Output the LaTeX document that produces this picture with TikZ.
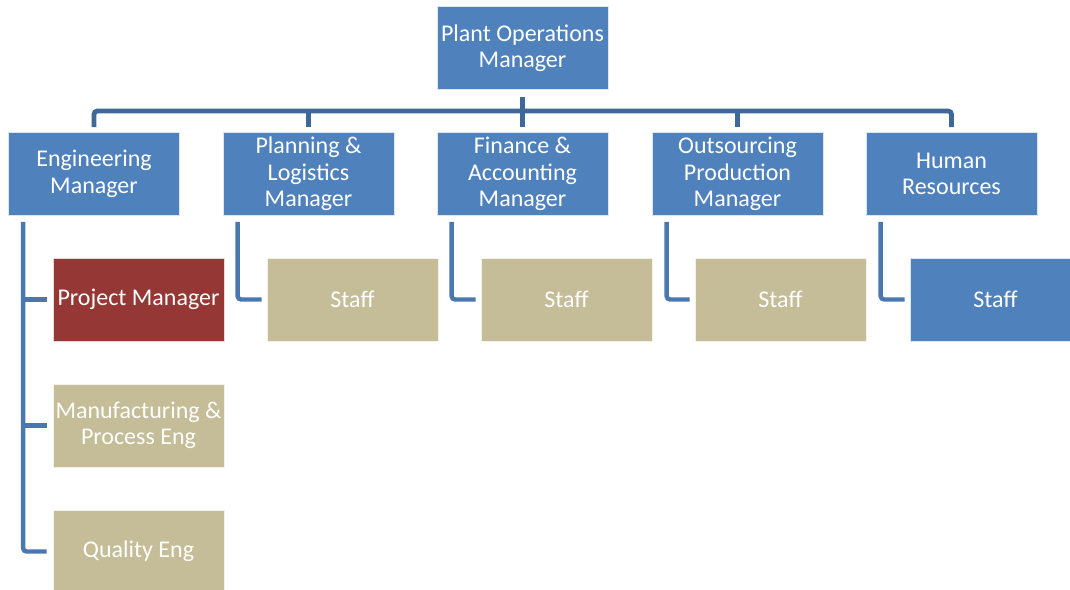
\documentclass[tikz,border=0pt]{standalone}
\usepackage{fontspec}
\setmainfont{Carlito}
\definecolor{boxblue}{HTML}{4F81BD}
\definecolor{busblue}{HTML}{3F6898}
\definecolor{linkblue}{HTML}{4A77B0}
\definecolor{tan}{HTML}{C4BD97}
\definecolor{brick}{HTML}{953735}
\begin{document}
\begin{tikzpicture}[x=0.75pt,y=-0.75pt,
  orgbox/.style={rectangle, minimum width=128.25pt, minimum height=62.25pt,
    inner sep=0pt, text=white, align=center, draw=white!80!#1, line width=0.5pt,
    fill=#1, font=\fontsize{18}{19.8}\selectfont},
  orgbox/.default=boxblue,
  bus/.style={draw=busblue, line width=3.6pt, rounded corners=2.5pt},
  link/.style={draw=linkblue, line width=3.3pt, rounded corners=2.5pt}]
\useasboundingbox (0,0) rectangle (1070,589);
\clip (0,0) rectangle (1070,589);

% top manager
\node[orgbox] (pom) at (522.5,48) {Plant Operations\\Manager};

% department heads
\node[orgbox] (eng) at (94,174) {Engineering\\Manager};
\node[orgbox] (plan) at (308.5,174) {Planning \&\\Logistics\\Manager};
\node[orgbox] (fin) at (522.5,174) {Finance \&\\Accounting\\Manager};
\node[orgbox] (out) at (737.5,174) {Outsourcing\\Production\\Manager};
\node[orgbox] (hr) at (951.5,174) {Human\\Resources};

% engineering team
\node[orgbox=brick] (pm) at (138.5,299.5) {Project Manager};
\node[orgbox=tan] (mfg) at (138.5,425.5) {Manufacturing \&\\Process Eng};
\node[orgbox=tan] (qe) at (138.5,551.5) {Quality Eng};

% staff
\node[orgbox=tan] (splan) at (352.5,299.5) {Staff};
\node[orgbox=tan] (sfin) at (566.5,299.5) {Staff};
\node[orgbox=tan] (sout) at (780.5,299.5) {Staff};
\node[orgbox] (shr) at (995.5,299.5) {Staff};

% coordinates for the connectors
\coordinate (busy) at (0,111);
\coordinate (pomstub) at ([yshift=-5.25pt]pom.south);

% bus from the top manager to the department heads
\draw[bus] (pomstub) -- (pomstub |- busy);
\draw[bus] ([yshift=3.75pt]eng.north) -- (eng.north |- busy) -- (hr.north |- busy) -- ([yshift=3.75pt]hr.north);
\foreach \d in {plan,fin,out}
  \draw[bus] (\d.north |- busy) -- ([yshift=3.75pt]\d.north);

% engineering branch
\coordinate (engx) at ([xshift=11.25pt,yshift=-4.5pt]eng.south west);
\draw[link] (engx) -- (engx |- qe.west) -- ([xshift=-4.5pt]qe.west);
\draw[link] (engx |- pm.west) -- ([xshift=-4.5pt]pm.west);
\draw[link] (engx |- mfg.west) -- ([xshift=-4.5pt]mfg.west);

% staff branches
\foreach \d/\s in {plan/splan,fin/sfin,out/sout,hr/shr}{
  \coordinate (\d x) at ([xshift=11.25pt,yshift=-4.5pt]\d.south west);
  \draw[link] (\d x) -- (\d x |- \s.west) -- ([xshift=-3.75pt]\s.west);
}
\end{tikzpicture}
\end{document}
